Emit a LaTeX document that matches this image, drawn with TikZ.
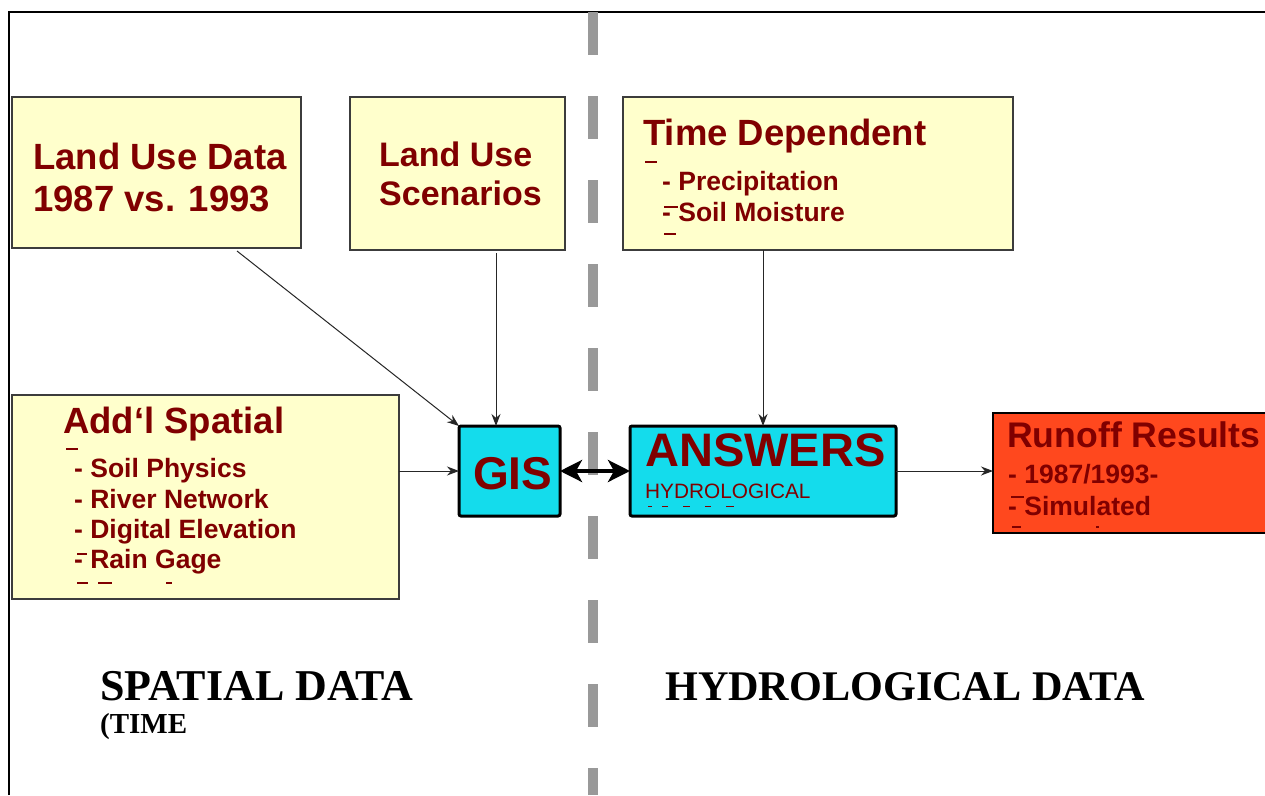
\documentclass[tikz,border=0pt]{standalone}
\usepackage{fontspec}
\setmainfont{Liberation Serif}
\newfontfamily\arialf{Liberation Sans}
\usetikzlibrary{arrows.meta}
\definecolor{dred}{RGB}{128,0,0}
\definecolor{lyel}{RGB}{255,255,204}
\definecolor{cyanb}{RGB}{20,220,236}
\definecolor{orred}{RGB}{255,72,30}
\definecolor{dashg}{RGB}{153,153,153}
\definecolor{edgeg}{RGB}{60,60,60}
\begin{document}
\begin{tikzpicture}[x=1pt,y=-1pt,
  ybox/.style={draw=edgeg,line width=1.5pt,fill=lyel,inner sep=0pt,outer sep=0pt,anchor=north west},
  cbox/.style={draw=black,line width=3pt,fill=cyanb,rounded corners=2pt,inner sep=0pt,outer sep=0pt,anchor=north west},
  obox/.style={draw=black,line width=1.5pt,fill=orred,inner sep=0pt,outer sep=0pt,anchor=north west},
  txt/.style={inner sep=0pt,anchor=base west,text=dred},
  big/.style={txt,font=\arialf\bfseries\fontsize{36.5}{40}\selectfont},
  item/.style={txt,font=\arialf\bfseries\fontsize{26.5}{30}\selectfont},
  huge/.style={txt,font=\arialf\bfseries\fontsize{47}{52}\selectfont},
  small/.style={txt,font=\arialf\fontsize{20.8}{24}\selectfont},
  label/.style={inner sep=0pt,anchor=base west,text=black,font=\bfseries\fontsize{42.2}{46}\selectfont},
  sublabel/.style={inner sep=0pt,anchor=base west,text=black,font=\bfseries\fontsize{29}{32}\selectfont},
  arr/.style={draw=black!85,line width=1pt,-{Stealth[length=12pt,width=9pt]}},
  dblarr/.style={draw=black,line width=4.5pt,{Stealth[length=22pt,width=22pt,inset=6pt]}-{Stealth[length=22pt,width=22pt,inset=6pt]}},
  glitch/.style={draw=dred,line width=1.5pt}
]
\useasboundingbox (0,0) rectangle (1265,795);
\clip (0,0) rectangle (1265,795);
\fill[white] (0,0) rectangle (1265,795);

% frame
\draw[line width=2.5pt] (9,795) -- (9,12) -- (1265,12);

% dashed divider
\draw[dashg,line width=10pt,dash pattern=on 43pt off 41pt] (593,12) -- (593,795);

% boxes
\node[ybox,minimum width=289pt,minimum height=151pt] (b1) at (12,97) {};
\node[ybox,minimum width=215pt,minimum height=153pt] (b2) at (350,97) {};
\node[ybox,minimum width=390pt,minimum height=153pt] (b3) at (623,97) {};
\node[ybox,minimum width=387pt,minimum height=204pt] (b4) at (12,395) {};
\node[cbox,minimum width=101pt,minimum height=90pt] (gis) at (459,426) {};
\node[cbox,minimum width=266pt,minimum height=90pt] (ans) at (630,426) {};
\node[obox,minimum width=300pt,minimum height=120pt] (ro) at (993,413) {};

% connectors
\draw[arr] ([xshift=80.5pt,yshift=-3pt]b1.south) -- (gis.north west);
\draw[arr] ([xshift=38.5pt,yshift=-3pt]b2.south) -- ([xshift=-13.5pt]gis.north);
\draw[arr] ([xshift=-55pt]b3.south) -- (ans.north);
\draw[arr] (b4.east |- gis.west) -- (gis.west);
\draw[dblarr] (gis.east) -- (ans.west);
\draw[arr] (ans.east) -- (ans.east -| ro.west);

% texts box 1
\node[big] (t1a) at (33,169) {Land Use Data};
\node[big] (t1b) at (33,211) {1987 vs. 1993};
% box 2
\node[big,font=\arialf\bfseries\fontsize{34}{40}\selectfont] (t2a) at (379,166) {Land Use};
\node[big,font=\arialf\bfseries\fontsize{34}{40}\selectfont] (t2b) at (379,205) {Scenarios};
% box 3
\node[big] (t3a) at (643,145) {Time Dependent};
\node[item] (t3b) at (662,190) {- Precipitation};
\node[item] (t3c) at (662,221) {- Soil Moisture};
\draw[glitch] (645,162) -- (657,162);
\draw[glitch] (664,207) -- (678,207);
\draw[glitch] (664,234) -- (676,234);
% box 4
\node[big] (t4a) at (63,433) {Add‘l Spatial};
\node[item] (t4b) at (74,477) {- Soil Physics};
\node[item] (t4c) at (74,508) {- River Network};
\node[item] (t4d) at (74,538) {- Digital Elevation};
\node[item] (t4e) at (74,568) {- Rain Gage};
\draw[glitch] (66,449) -- (78,449);
\draw[glitch] (77,554) -- (87,554);
\draw[glitch] (77,583) -- (88,583);
\draw[glitch] (98,583) -- (112,583);
\draw[glitch] (166,583) -- (172,583);
% GIS
\node[huge,font=\arialf\bfseries\fontsize{46}{52}\selectfont] (tg) at (473,489) {GIS};
% ANSWERS
\node[huge] (ta) at (645,466) {ANSWERS};
\node[small] (th) at (645,498) {HYDROLOGICAL};
\draw[glitch,line width=1pt] (648,506) -- (652,506);
\draw[glitch,line width=1pt] (662,506) -- (668,506);
\draw[glitch,line width=1pt] (683,506) -- (690,506);
\draw[glitch,line width=1pt] (705,506) -- (711,506);
\draw[glitch,line width=1pt] (726,506) -- (734,506);
% Runoff
\node[big,font=\arialf\bfseries\fontsize{35.6}{40}\selectfont] (tr) at (1007,447) {Runoff Results};
\node[item] (tr1) at (1008,483) {- 1987/1993-};
\node[item] (tr2) at (1008,515) {- Simulated};
\draw[glitch] (1011,497) -- (1024,497);
\draw[glitch] (1012,527) -- (1021,527);
\draw[glitch] (1096,527) -- (1099,527);

% bottom labels
\node[label,font=\bfseries\fontsize{44}{48}\selectfont] (ls) at (100,700) {SPATIAL DATA};
\node[sublabel] (lt) at (100,733) {(TIME};
\node[label] (lh) at (665,700) {HYDROLOGICAL DATA};
\end{tikzpicture}
\end{document}
